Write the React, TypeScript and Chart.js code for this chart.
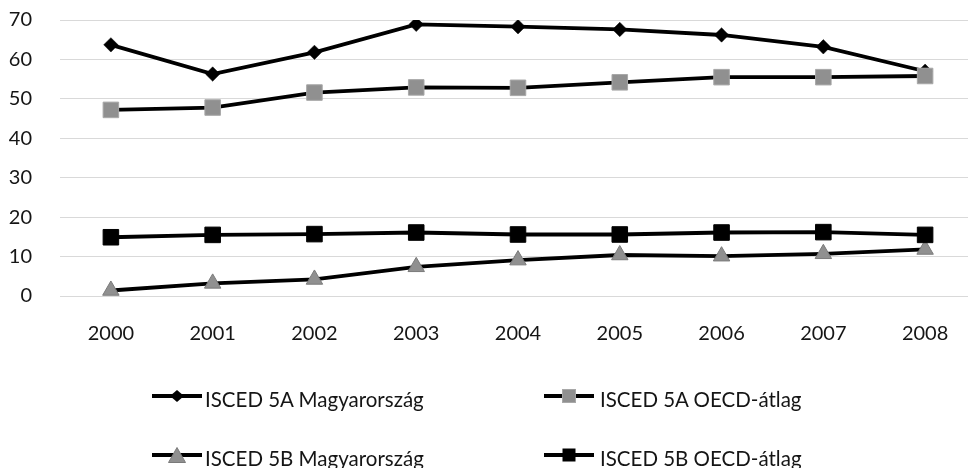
import React, { useEffect, useRef } from 'react';
import { Chart, registerables } from 'chart.js';

Chart.register(...registerables);

const years = ['2000', '2001', '2002', '2003', '2004', '2005', '2006', '2007', '2008'];
const hu5A = [63.7, 56.3, 61.8, 68.9, 68.3, 67.6, 66.2, 63.2, 57.0];
const oecd5A = [47.2, 47.8, 51.6, 52.9, 52.8, 54.2, 55.5, 55.5, 55.8];
const hu5B = [1.4, 3.2, 4.2, 7.4, 9.1, 10.4, 10.1, 10.7, 11.8];
const oecd5B = [14.9, 15.5, 15.7, 16.1, 15.6, 15.6, 16.1, 16.2, 15.5];

const seriesNames = [
  'ISCED 5A Magyarország',
  'ISCED 5A OECD-átlag',
  'ISCED 5B Magyarország',
  'ISCED 5B OECD-átlag',
];

const FONT = 'Lato';
const GRAY = '#909090';
const TEXT = '#151515';

function Marker({ kind }: { kind: string }) {
  let shape: React.ReactNode = null;
  if (kind === 'diamond') shape = <polygon points="25,4 32,10 25,16 18,10" fill="#000" />;
  if (kind === 'graySquare') shape = <rect x="18.5" y="3.5" width="13" height="13" fill={GRAY} stroke="#a8a8a8" strokeWidth="1" />;
  if (kind === 'triangle') shape = <polygon points="25,2.5 33.5,17.5 16.5,17.5" fill={GRAY} stroke="#7a7a7a" strokeWidth="1" />;
  if (kind === 'blackSquare') shape = <rect x="18.5" y="3.5" width="13" height="13" fill="#000" />;
  return (
    <svg width="50" height="20" style={{ display: 'block' }}>
      <line x1="0" y1="10" x2="50" y2="10" stroke="#000" strokeWidth="3.8" />
      {shape}
    </svg>
  );
}

export default function App() {
  const ref = useRef<HTMLCanvasElement>(null);

  useEffect(() => {
    const font = { family: FONT, size: 20 };
    const chart = new Chart(ref.current as HTMLCanvasElement, {
      type: 'line',
      data: {
        labels: years,
        datasets: [
          {
            label: seriesNames[0],
            data: hu5A,
            borderColor: '#000',
            borderWidth: 3.8,
            pointStyle: 'rectRot',
            pointRadius: 7.2,
            pointBackgroundColor: '#000',
            pointBorderColor: '#000',
            pointBorderWidth: 0.5,
            order: 4,
          },
          {
            label: seriesNames[1],
            data: oecd5A,
            borderColor: '#000',
            borderWidth: 3.8,
            pointStyle: 'rect',
            pointRadius: 11,
            pointBackgroundColor: GRAY,
            pointBorderColor: '#a8a8a8',
            pointBorderWidth: 1,
            order: 3,
          },
          {
            label: seriesNames[2],
            data: hu5B,
            borderColor: '#000',
            borderWidth: 3.8,
            pointStyle: 'triangle',
            pointRadius: 9.5,
            pointBackgroundColor: GRAY,
            pointBorderColor: '#7a7a7a',
            pointBorderWidth: 1,
            order: 2,
          },
          {
            label: seriesNames[3],
            data: oecd5B,
            borderColor: '#000',
            borderWidth: 3.8,
            pointStyle: 'rect',
            pointRadius: 11,
            pointBackgroundColor: '#000',
            pointBorderColor: '#000',
            pointBorderWidth: 1,
            order: 1,
          },
        ],
      },
      options: {
        responsive: false,
        animation: false,
        devicePixelRatio: 1,
        layout: { autoPadding: false, padding: { left: 9, right: 24, top: 20, bottom: 122 } },
        plugins: { legend: { display: false }, tooltip: { enabled: false } },
        scales: {
          x: {
            offset: true,
            grid: { display: false, drawTicks: false },
            border: { display: false },
            ticks: { padding: 26, font, color: TEXT },
            afterFit: (s: any) => {
              s.paddingLeft = 0;
              s.paddingRight = 0;
              s.height = 50;
            },
          },
          y: {
            min: 0,
            max: 70,
            ticks: { stepSize: 10, padding: 28, font, color: TEXT },
            grid: { color: '#d9d9d9', lineWidth: 1, drawTicks: false },
            border: { display: false },
            afterFit: (s: any) => {
              s.paddingTop = 0;
              s.paddingBottom = 0;
              s.width = 51;
            },
          },
        },
      },
    });
    return () => chart.destroy();
  }, []);

  const legendItems = [
    { kind: 'diamond', mx: 152, tx: 205, my: 386, ty: 386.5, text: seriesNames[0] },
    { kind: 'graySquare', mx: 544, tx: 600, my: 386, ty: 386.5, text: seriesNames[1] },
    { kind: 'triangle', mx: 152, tx: 205, my: 445, ty: 445.5, text: seriesNames[2] },
    { kind: 'blackSquare', mx: 544, tx: 600, my: 445, ty: 445.5, text: seriesNames[3] },
  ];

  return (
    <div style={{ position: 'fixed', left: 0, top: 0, width: 968, height: 468, overflow: 'hidden', background: '#fff' }}>
      <canvas ref={ref} width={1000} height={468} style={{ position: 'absolute', left: 0, top: 0, display: 'block' }} />
      {legendItems.map((it) => (
        <React.Fragment key={it.text}>
          <div style={{ position: 'absolute', left: it.mx, top: it.my }}>
            <Marker kind={it.kind} />
          </div>
          <div
            style={{
              position: 'absolute',
              left: it.tx,
              top: it.ty,
              fontFamily: FONT,
              fontSize: 20.5,
              lineHeight: 'normal',
              color: TEXT,
              whiteSpace: 'nowrap',
            }}
          >
            {it.text}
          </div>
        </React.Fragment>
      ))}
    </div>
  );
}
